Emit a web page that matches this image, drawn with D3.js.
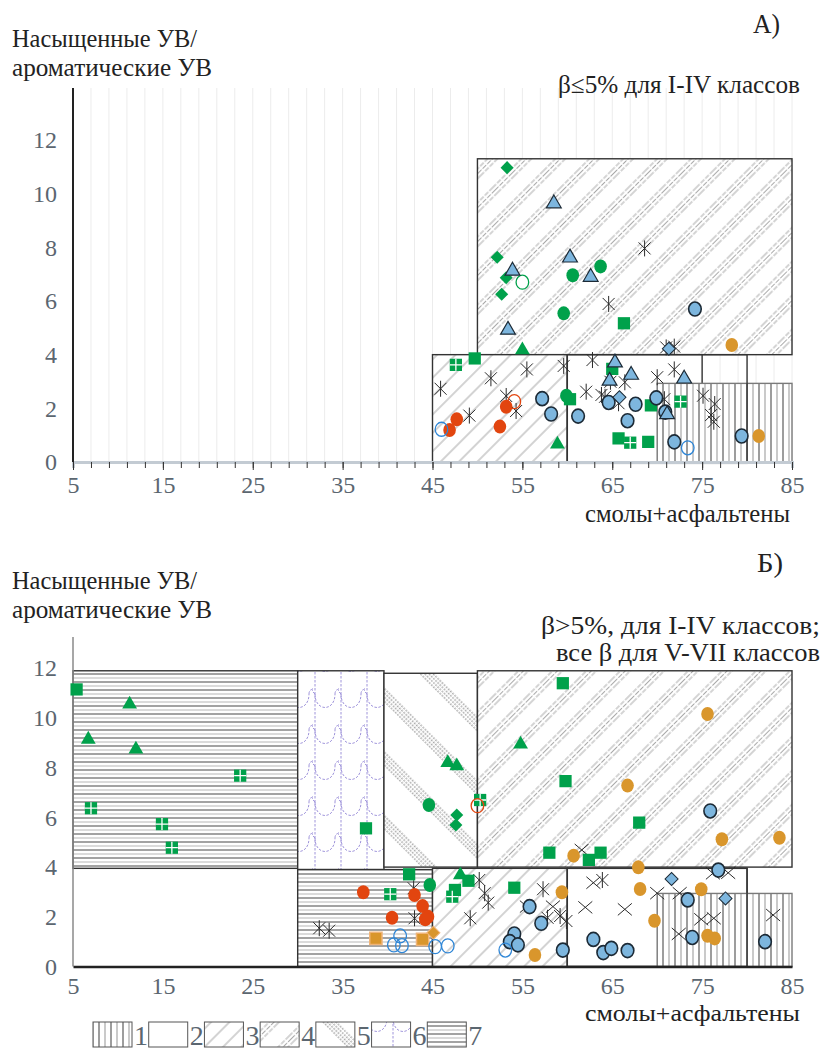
<!DOCTYPE html>
<html>
<head>
<meta charset="utf-8">
<script src="https://cdnjs.cloudflare.com/ajax/libs/d3/7.8.5/d3.min.js"></script>
<style>
  body { margin: 0; background: #fff; }
</style>
</head>
<body>
<script>
// --- data -------------------------------------------------------------
var xTicks = [5, 15, 25, 35, 45, 55, 65, 75, 85];
var yTicks = [0, 2, 4, 6, 8, 10, 12];
var legendLabels = ['1', '2', '3', '4', '5', '6', '7'];

// class fields: [x0, x1, y0, y1, class]  (class 0 = outline only)
var regionsA = [
  [50, 85, 4, 11.3, 4],
  [45, 60, 0, 4, 3],
  [60, 75, 0, 4, 2],
  [70, 85, 0, 2.93, 1],
  [60, 80, -0.05, 4, 0]
];
var regionsB = [
  [5, 30, 3.95, 11.9, 7],
  [30, 39.6, 3.9, 11.9, 6],
  [39.6, 50, 4, 11.8, 5],
  [50, 85, 4, 11.9, 4],
  [30, 45, 0, 3.9, 7],
  [45, 60, 0, 3.95, 3],
  [60, 80, 0, 3.95, 2],
  [70, 85, 0, 2.94, 1],
  [60, 80, 0, 3.95, 0]
];

// chart A: beta <= 5%
var aGreenDiamond = [[53.3, 10.97], [52.2, 7.63], [53.2, 6.87], [52.7, 6.25]];
var aBlueTriangle = [[58.5, 9.67], [60.3, 7.65], [53.9, 7.16], [62.6, 6.93], [53.4, 4.96], [65.3, 3.74],
                     [67.1, 3.28], [73.0, 3.14], [64.7, 3.06], [71.1, 1.81]];
var aGreenTriangle = [[55.0, 4.21], [58.9, 0.70]];
var aGreenCircle = [[60.6, 6.96], [63.7, 7.29], [59.6, 5.54], [59.9, 2.47]];
var aGreenOpen = [[55.0, 6.70]];
var aGreenSquare = [[66.3, 5.17], [49.7, 3.86], [65.0, 3.47], [60.3, 2.34], [69.3, 2.11], [65.7, 0.88], [69.0, 0.75]];
var aGreenSquarePlus = [[47.6, 3.62], [72.6, 2.25], [67.0, 0.72]];
var aAsterisk = [[68.6, 7.96], [64.6, 5.89], [71.0, 4.27], [71.9, 4.30], [62.8, 3.80], [59.6, 3.58], [55.5, 3.45],
                 [51.5, 3.12], [45.9, 2.73], [71.9, 3.45], [70.0, 3.16], [66.4, 2.97], [64.8, 2.99], [62.1, 2.62],
                 [63.8, 2.50], [64.2, 2.43], [65.7, 2.19], [70.8, 2.34], [75.1, 2.47], [76.4, 2.16], [76.0, 1.75],
                 [76.3, 1.50], [53.2, 2.46], [54.3, 1.90], [49.1, 1.73]];
var aBlueCircle = [[74.2, 5.70], [57.2, 2.36], [58.2, 1.79], [61.2, 1.71], [64.6, 2.22], [67.6, 2.15], [66.7, 1.54],
                   [69.9, 2.39], [70.9, 1.86], [71.9, 0.75], [79.4, 0.97]];
var aBlueDiamond = [[65.8, 2.41], [71.3, 4.22]];
var aOrangeCircle = [[78.3, 4.36], [81.3, 0.97]];
var aRedCircle = [[53.2, 2.06], [47.7, 1.59], [46.9, 1.19], [52.5, 1.32]];
var aRedOpen = [[54.1, 2.25]];
var aBlueOpen = [[46.0, 1.22], [73.4, 0.53]];

// chart B: beta > 5% (I-IV), all beta (V-VII)
var bGreenSquare = [[5.4, 11.15], [37.6, 5.56], [42.4, 3.71], [59.5, 11.40], [59.8, 7.46], [68.0, 5.79], [58.0, 4.58],
                    [62.4, 4.29], [63.7, 4.58], [49.0, 3.45], [54.1, 3.17], [47.5, 3.08]];
var bGreenTriangle = [[11.3, 10.59], [6.7, 9.18], [12.0, 8.78], [54.8, 8.98], [46.7, 8.24], [47.7, 8.11], [48.1, 3.72]];
var bGreenSquarePlus = [[23.6, 7.68], [7.0, 6.37], [14.9, 5.73], [16.0, 4.78], [40.3, 2.91], [50.3, 6.70], [47.2, 2.81]];
var bGreenCircle = [[44.6, 6.50], [44.7, 3.28]];
var bGreenDiamond = [[47.7, 6.10], [47.6, 5.69]];
var bRedCircle = [[37.3, 2.99], [40.5, 1.96], [43.0, 2.88], [43.9, 2.43], [44.5, 2.0], [44.2, 1.90]];
var bRedOpen = [[50.0, 6.47]];
var bOrangeCircle = [[75.6, 10.16], [66.7, 7.28], [77.2, 5.12], [83.6, 5.18], [60.7, 4.46], [67.9, 3.99], [68.1, 3.12],
                     [74.9, 3.11], [59.4, 2.99], [69.7, 1.84], [75.6, 1.24], [76.4, 1.13], [56.4, 0.46]];
var bOrangeSquare = [[38.7, 1.13], [43.9, 1.09]];
var bOrangeDiamond = [[45.1, 1.36]];
var bBlueCircle = [[75.9, 6.26], [76.8, 3.88], [73.4, 2.68], [55.8, 2.41], [57.1, 1.74], [73.9, 1.17], [82.0, 1.00],
                   [62.9, 1.09], [64.0, 0.56], [64.9, 0.73], [66.7, 0.64], [54.1, 1.31], [53.6, 1.00], [54.5, 0.87],
                   [59.5, 0.66]];
var bBlueDiamond = [[71.6, 3.52], [77.6, 2.74]];
var bBlueOpen = [[41.4, 1.23], [40.7, 0.87], [41.6, 0.84], [45.3, 0.80], [46.7, 0.83], [53.1, 0.66]];
var bAsterisk = [[32.4, 1.54], [33.5, 1.44], [42.9, 3.15], [43.0, 1.94], [50.2, 3.48], [50.8, 2.95], [51.2, 2.57],
                 [49.2, 1.94], [63.9, 3.48], [57.8, 1.96], [59.2, 2.03], [59.9, 1.83], [57.3, 3.11]];
var bCross = [[61.6, 4.69], [76.2, 3.75], [77.9, 3.77], [62.9, 3.37], [70.0, 2.95], [72.5, 2.95], [55.5, 2.41],
              [58.4, 2.41], [62.0, 2.38], [66.4, 2.30], [74.9, 1.90], [76.3, 1.94], [82.9, 2.07], [72.4, 1.31]];

// --- setup ------------------------------------------------------------
var GREEN = '#00a14b', BLUE = '#7db6de', ORANGE = '#d9962c', RED = '#e2450f', DARK = '#1c2a36';
var TICK = '#5b6670';
var SERIF = 'Liberation Serif';

var svg = d3.select('body').append('svg')
            .attr('width', 835)
            .attr('height', 1050);

var defs = svg.append('defs');

function pat(id, w, h, rot) {
  var p = defs.append('pattern')
              .attr('id', id)
              .attr('patternUnits', 'userSpaceOnUse')
              .attr('width', w)
              .attr('height', h);
  if (rot) p.attr('patternTransform', 'rotate(' + rot + ')');
  p.append('rect').attr('width', w).attr('height', h).attr('fill', '#fff');
  return p;
}

// 1 - vertical lines
var p1 = pat('p1', 12, 10);
p1.append('line').attr('x1', 3).attr('x2', 3).attr('y1', 0).attr('y2', 10).attr('stroke', '#9d9d9d').attr('stroke-width', 2);
p1.append('line').attr('x1', 9).attr('x2', 9).attr('y1', 0).attr('y2', 10).attr('stroke', '#bdbdbd').attr('stroke-width', 1.6);
// 2 - blank
pat('p2', 10, 10);
// 3 - single diagonal
var p3 = pat('p3', 13, 13, 45);
p3.append('line').attr('x1', 1).attr('x2', 1).attr('y1', 0).attr('y2', 13).attr('stroke', '#bcbcbc').attr('stroke-width', 1.3);
// 4 - grouped diagonal
var p4 = pat('p4', 24, 24, 45);
[1, 4.5, 8].forEach(function(d) {
  p4.append('line').attr('x1', d).attr('x2', d).attr('y1', 0).attr('y2', 24)
    .attr('stroke', '#a9a9a9').attr('stroke-width', 1).attr('stroke-dasharray', '5,1.5');
});
// 5 - dotted bands
var dots = defs.append('pattern').attr('id', 'dots').attr('patternUnits', 'userSpaceOnUse')
               .attr('width', 3).attr('height', 3);
dots.append('rect').attr('width', 1.6).attr('height', 1.6).attr('fill', '#a9a9a9');
var p5 = pat('p5', 45, 45, -45);
p5.append('rect').attr('x', 0).attr('width', 12).attr('height', 45).attr('fill', 'url(#dots)');
// 6 - purple waves
var p6 = pat('p6', 26, 36);
p6.append('path')
  .attr('d', 'M3,0 L3,36 M3,10 C3,28 23,28 23,10 M23,10 C23,4 29,4 29,10 M0,4 C0,8 3,10 3,10')
  .attr('fill', 'none').attr('stroke', '#8577d0').attr('stroke-width', 0.8).attr('stroke-dasharray', '2.5,1.5');
// 7 - horizontal lines
var p7 = pat('p7', 10, 8);
p7.append('line').attr('x1', 0).attr('x2', 10).attr('y1', 2).attr('y2', 2).attr('stroke', '#a3a3a3').attr('stroke-width', 2);
p7.append('line').attr('x1', 0).attr('x2', 10).attr('y1', 6).attr('y2', 6).attr('stroke', '#cfcfcf').attr('stroke-width', 1.5);

var x = d3.scaleLinear().domain([5, 85]).range([73, 792]);
var yA = d3.scaleLinear().domain([0, 12]).range([462, 140]);
var yB = d3.scaleLinear().domain([0, 12]).range([966.5, 668.3]);

function label(g, px, py, txt, size, len, color) {
  var t = g.append('text')
           .attr('x', px)
           .attr('y', py)
           .attr('font-family', SERIF)
           .style('font-size', size + 'px')
           .attr('fill', color || '#222')
           .text(txt);
  if (len) t.attr('textLength', len).attr('lengthAdjust', 'spacingAndGlyphs');
  return t;
}

function drawRegions(g, regions, y) {
  g.selectAll(null)
   .data(regions)
   .join('rect')
   .attr('x', function(d) { return x(d[0]); })
   .attr('y', function(d) { return y(d[3]); })
   .attr('width', function(d) { return x(d[1]) - x(d[0]); })
   .attr('height', function(d) { return y(d[2]) - y(d[3]); })
   .attr('fill', function(d) { return d[4] ? 'url(#p' + d[4] + ')' : 'none'; })
   .attr('stroke', function(d) { return d[4] === 1 ? '#7a7a7a' : '#333'; })
   .attr('stroke-width', 1.4);
}

// markers
var sq = d3.symbol(d3.symbolSquare, 150)();
var dia = d3.symbol(d3.symbolSquare, 85)();
var tri = d3.symbol(d3.symbolTriangle, 95)();

function drawMarks(g, data, type, y) {
  var s = g.selectAll(null)
           .data(data)
           .enter()
           .append('g')
           .attr('transform', function(d) { return 'translate(' + x(d[0]) + ',' + y(d[1]) + ')'; });
  if (type === 'ellipse') return s.append('ellipse').attr('rx', 6.3).attr('ry', 7);
  if (type === 'square') return s.append('path').attr('d', sq);
  if (type === 'diamond') return s.append('path').attr('d', dia).attr('transform', 'rotate(45)');
  if (type === 'triangle') return s.append('path').attr('d', tri).attr('transform', 'translate(0,1)');
  if (type === 'squarePlus') {
    s.append('path').attr('d', sq).attr('fill', GREEN);
    s.append('path').attr('d', 'M-6,0L6,0M0,-6L0,6').attr('stroke', '#fff').attr('stroke-width', 1.3);
    return s;
  }
  if (type === 'asterisk') {
    return s.append('path').attr('d', 'M-6,-6L6,6M-6,6L6,-6M0,-8L0,8')
            .attr('stroke', '#2a2a2a').attr('stroke-width', 1).attr('fill', 'none');
  }
  if (type === 'cross') {
    return s.append('path').attr('d', 'M-7,-6L7,6M-7,6L7,-6')
            .attr('stroke', '#2a2a2a').attr('stroke-width', 1).attr('fill', 'none');
  }
}

function fillMark(sel, fill, stroke, sw) {
  sel.attr('fill', fill).attr('stroke', stroke || 'none').attr('stroke-width', sw || 0);
}

function styleTicks(ax) {
  ax.attr('font-family', null);
  ax.selectAll('text').attr('fill', TICK).attr('font-family', SERIF).style('font-size', '24px');
}

// --- chart A ------------------------------------------------------------
var gA = svg.append('g');

gA.selectAll(null)
  .data(d3.range(5, 86, 2))
  .join('line')
  .attr('x1', function(d) { return x(d); })
  .attr('x2', function(d) { return x(d); })
  .attr('y1', 88)
  .attr('y2', yA(0))
  .attr('stroke', '#ececec')
  .attr('stroke-width', 1);

drawRegions(gA, regionsA, yA);

// x axis with minor ticks
var axA = gA.append('g').attr('transform', 'translate(0,' + yA(0) + ')');
axA.call(d3.axisBottom(x).tickValues(d3.range(5, 86, 2)).tickSize(6).tickFormat(''));
axA.select('.domain').attr('stroke', '#c3cbd3').attr('stroke-width', 3);
axA.selectAll('.tick line').attr('stroke', '#333');
var axA2 = gA.append('g').attr('transform', 'translate(0,' + yA(0) + ')');
axA2.call(d3.axisBottom(x).tickValues(xTicks).tickSize(8).tickPadding(6));
axA2.select('.domain').remove();
axA2.selectAll('.tick line').attr('stroke', '#333');
styleTicks(axA2);

var ayA = gA.append('g').attr('transform', 'translate(73,0)');
ayA.call(d3.axisLeft(yA).tickValues(yTicks).tickSize(0).tickPadding(16));
ayA.select('.domain').remove();
styleTicks(ayA);
gA.append('line').attr('x1', 73).attr('x2', 73).attr('y1', 88).attr('y2', yA(0))
  .attr('stroke', '#222').attr('stroke-width', 2);

fillMark(drawMarks(gA, aAsterisk, 'asterisk', yA), 'none', '#2a2a2a', 1);
fillMark(drawMarks(gA, aGreenDiamond, 'diamond', yA), GREEN);
fillMark(drawMarks(gA, aGreenTriangle, 'triangle', yA), GREEN);
fillMark(drawMarks(gA, aGreenCircle, 'ellipse', yA), GREEN);
fillMark(drawMarks(gA, aGreenOpen, 'ellipse', yA), '#fff', GREEN, 1.3);
fillMark(drawMarks(gA, aGreenSquare, 'square', yA), GREEN);
drawMarks(gA, aGreenSquarePlus, 'squarePlus', yA);
fillMark(drawMarks(gA, aBlueCircle, 'ellipse', yA), BLUE, DARK, 1.6);
fillMark(drawMarks(gA, aBlueTriangle, 'triangle', yA), BLUE, DARK, 1.2);
fillMark(drawMarks(gA, aBlueDiamond, 'diamond', yA), BLUE, DARK, 1);
fillMark(drawMarks(gA, aOrangeCircle, 'ellipse', yA), ORANGE);
fillMark(drawMarks(gA, aRedCircle, 'ellipse', yA), RED);
fillMark(drawMarks(gA, aRedOpen, 'ellipse', yA), 'none', RED, 1.3);
fillMark(drawMarks(gA, aBlueOpen, 'ellipse', yA), 'none', '#2f86d6', 1.3);

label(gA, 753, 33, 'А)', 27, 27);
label(gA, 12, 47, 'Насыщенные УВ/', 26, 185);
label(gA, 12, 76, 'ароматические УВ', 26, 200);
label(gA, 558, 93, 'β≤5% для I-IV классов', 25, 242);
label(gA, 585, 522, 'смолы+асфальтены', 25, 205);

// --- chart B ------------------------------------------------------------
var gB = svg.append('g');

drawRegions(gB, regionsB, yB);

gB.append('line').attr('x1', 73).attr('x2', 73).attr('y1', 637).attr('y2', yB(0))
  .attr('stroke', '#8a8a8a').attr('stroke-width', 1.5);

var axB = gB.append('g').attr('transform', 'translate(0,' + yB(0) + ')');
axB.call(d3.axisBottom(x).tickValues(xTicks).tickSize(0).tickPadding(10));
axB.select('.domain').attr('stroke', '#222').attr('stroke-width', 2.5);
styleTicks(axB);

var ayB = gB.append('g').attr('transform', 'translate(73,0)');
ayB.call(d3.axisLeft(yB).tickValues(yTicks).tickSize(0).tickPadding(16));
ayB.select('.domain').remove();
styleTicks(ayB);

fillMark(drawMarks(gB, bAsterisk, 'asterisk', yB), 'none', '#2a2a2a', 1);
drawMarks(gB, bCross, 'cross', yB);
fillMark(drawMarks(gB, bGreenSquare, 'square', yB), GREEN);
fillMark(drawMarks(gB, bGreenTriangle, 'triangle', yB), GREEN);
drawMarks(gB, bGreenSquarePlus, 'squarePlus', yB);
fillMark(drawMarks(gB, bGreenCircle, 'ellipse', yB), GREEN);
fillMark(drawMarks(gB, bGreenDiamond, 'diamond', yB), GREEN);
fillMark(drawMarks(gB, bRedCircle, 'ellipse', yB), RED);
fillMark(drawMarks(gB, bRedOpen, 'ellipse', yB), 'none', RED, 1.3);
fillMark(drawMarks(gB, bOrangeCircle, 'ellipse', yB), ORANGE);
fillMark(drawMarks(gB, bOrangeSquare, 'square', yB), ORANGE, '#f0b478', 1.5);
fillMark(drawMarks(gB, bOrangeDiamond, 'diamond', yB), ORANGE, '#f0b478', 1);
fillMark(drawMarks(gB, bBlueCircle, 'ellipse', yB), BLUE, DARK, 1.6);
fillMark(drawMarks(gB, bBlueDiamond, 'diamond', yB), BLUE, DARK, 1);
fillMark(drawMarks(gB, bBlueOpen, 'ellipse', yB), 'none', '#2f86d6', 1.3);

label(gB, 757, 572, 'Б)', 27, 26);
label(gB, 12, 589, 'Насыщенные УВ/', 26, 185);
label(gB, 12, 618, 'ароматические УВ', 26, 200);
label(gB, 541, 634, 'β>5%, для I-IV классов;', 25, 279);
label(gB, 556, 661, 'все β для V-VII классов', 25, 264);
label(gB, 585, 1021, 'смолы+асфальтены', 23, 215);

// --- legend -------------------------------------------------------------
var lg = svg.append('g');
var lx = d3.scaleBand().domain(legendLabels).range([92, 482]).paddingInner(0);
lg.selectAll(null)
  .data(legendLabels)
  .join('rect')
  .attr('x', function(d) { return lx(d) + 1; })
  .attr('y', 1022)
  .attr('width', 39)
  .attr('height', 25)
  .attr('fill', function(d) { return 'url(#p' + d + ')'; })
  .attr('stroke', '#555')
  .attr('stroke-width', 1);
lg.selectAll(null)
  .data(legendLabels)
  .join('text')
  .attr('x', function(d) { return lx(d) + 42; })
  .attr('y', 1045)
  .attr('font-family', SERIF)
  .attr('fill', TICK)
  .style('font-size', '28px')
  .text(function(d) { return d; });
</script>
</body>
</html>
